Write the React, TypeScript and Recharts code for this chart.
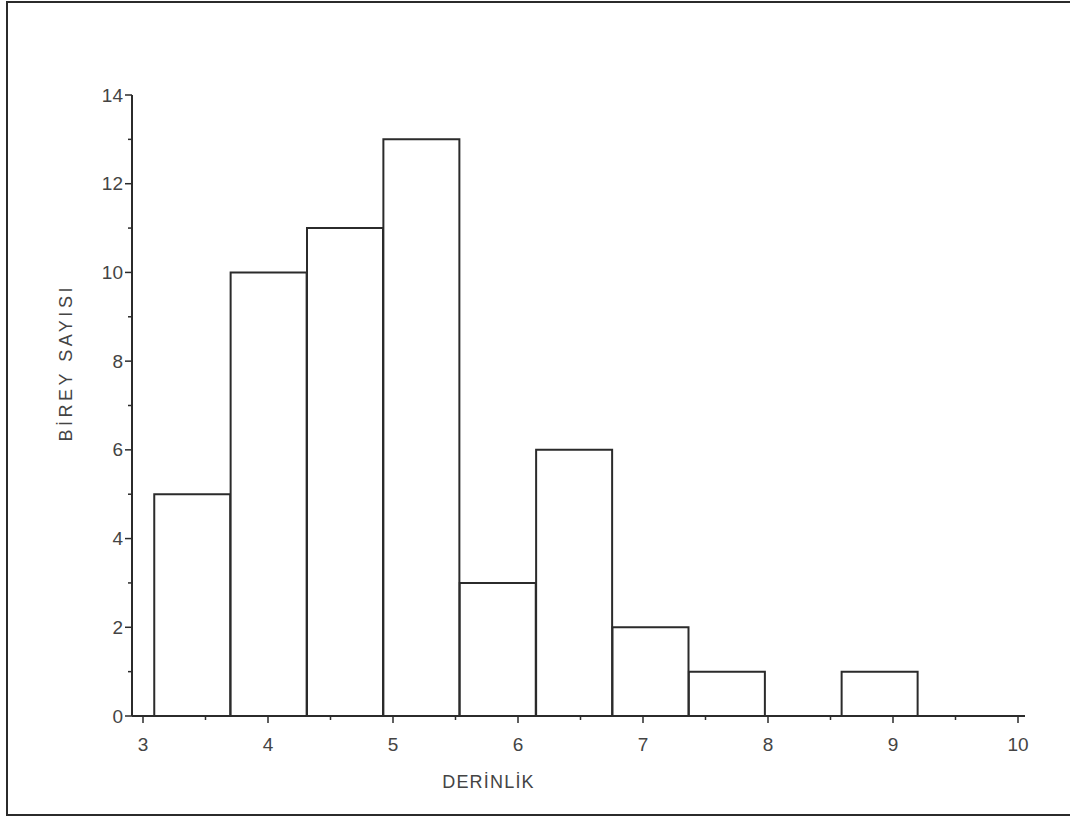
import React from "react";
import { BarChart, Bar, XAxis, YAxis } from "recharts";

// histogram bins (DERİNLİK)
const binStarts = [3.09, 3.701, 4.312, 4.923, 5.534, 6.145, 6.756, 7.367, 7.978, 8.589];
const binWidth = 0.611;
const counts = [5, 10, 11, 13, 3, 6, 2, 1, 0, 1];

const xTicks = [3, 3.5, 4, 4.5, 5, 5.5, 6, 6.5, 7, 7.5, 8, 8.5, 9, 9.5, 10];
const yTicks = [0, 1, 2, 3, 4, 5, 6, 7, 8, 9, 10, 11, 12, 13, 14];

const data = binStarts.map((s, i) => ({ mid: s + binWidth / 2, count: counts[i] }));

const INK = "#2b2b2b";
const TXT = "#444";
const FONT = "'Liberation Sans', Arial, sans-serif";

function YTick(props: any) {
  const { x, y, payload } = props;
  const major = payload.value % 2 === 0;
  return (
    <g>
      <line x1={x} x2={x - (major ? 7 : 4)} y1={y} y2={y} stroke={INK} strokeWidth={1.5} />
      {major && (
        <text x={x - 9} y={y} textAnchor="end" dominantBaseline="central" fill={TXT} fontSize={19} fontFamily={FONT}>
          {payload.value}
        </text>
      )}
    </g>
  );
}

function XTick(props: any) {
  const { x, y, payload } = props;
  const major = Number.isInteger(payload.value);
  return (
    <g>
      <line x1={x} x2={x} y1={y} y2={y + (major ? 7 : 4)} stroke={INK} strokeWidth={1.5} />
      {major && (
        <text x={x} y={y + 28} textAnchor="middle" dominantBaseline="central" fill={TXT} fontSize={19} fontFamily={FONT}>
          {payload.value}
        </text>
      )}
    </g>
  );
}

export default function App() {
  return (
    <div style={{ position: "absolute", left: 0, top: 0, width: 1070, height: 821, background: "#fff", overflow: "hidden" }}>
      <div
        style={{
          position: "absolute",
          left: 6,
          top: 1,
          width: 1070,
          height: 815,
          border: `2px solid ${INK}`,
          boxSizing: "border-box",
        }}
      />
      <div style={{ position: "absolute", left: 0, top: 0 }}>
        <BarChart
          width={1070}
          height={821}
          data={data}
          margin={{ top: 95, right: 45, bottom: 65, left: 72 }}
          barCategoryGap={0}
          barGap={0}
        >
          <XAxis
            type="number"
            dataKey="mid"
            domain={[2.912, 10.056]}
            allowDataOverflow
            ticks={xTicks}
            interval={0}
            tickSize={0}
            tickMargin={0}
            tickLine={false}
            tick={<XTick />}
            axisLine={{ stroke: INK, strokeWidth: 2 }}
            height={40}
            label={{
              value: "DERİNLİK",
              position: "insideBottom",
              offset: -32,
              dx: -90,
              fill: TXT,
              fontSize: 18,
              fontFamily: FONT,
              letterSpacing: 1.2,
            }}
          />
          <YAxis
            type="number"
            domain={[0, 14]}
            ticks={yTicks}
            interval={0}
            tickSize={0}
            tickMargin={0}
            tickLine={false}
            tick={<YTick />}
            axisLine={{ stroke: INK, strokeWidth: 2 }}
            width={60}
            label={{
              value: "BİREY SAYISI",
              angle: -90,
              position: "insideLeft",
              offset: -6,
              dy: 36,
              fill: TXT,
              fontSize: 18,
              fontFamily: FONT,
              letterSpacing: 3.5,
            }}
          />
          <Bar dataKey="count" fill="#fff" stroke={INK} strokeWidth={2} isAnimationActive={false} />
        </BarChart>
      </div>
    </div>
  );
}
